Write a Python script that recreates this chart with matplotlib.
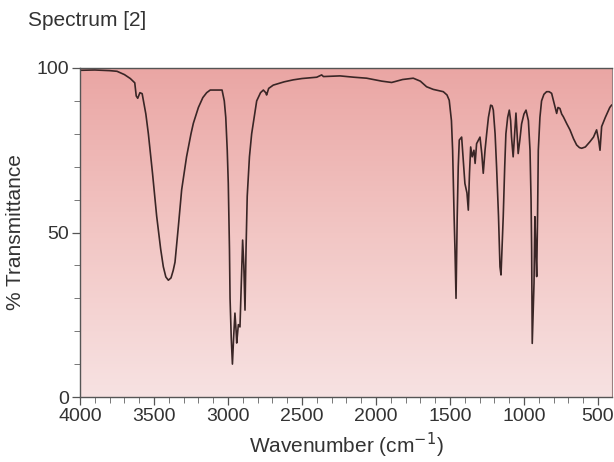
import numpy as np
import matplotlib
matplotlib.use("Agg")
import matplotlib.pyplot as plt
from matplotlib.colors import LinearSegmentedColormap
from matplotlib.ticker import MultipleLocator

plt.rcParams['font.family'] = ['Liberation Sans', 'DejaVu Sans']

wavenumber = [
    4000, 3900, 3800, 3750, 3700, 3660, 3630, 3620, 3610, 3595, 3580, 3555, 3538, 3510,
    3482, 3455, 3437, 3420, 3403, 3385, 3370, 3358, 3335, 3313, 3280, 3250, 3234, 3200,
    3170, 3144, 3120, 3040, 3025, 3015, 3005, 2998, 2990, 2986, 2978, 2970, 2962, 2953,
    2945, 2941, 2930, 2919, 2910, 2901, 2893, 2885, 2878, 2870, 2855, 2840, 2820, 2806,
    2780, 2761, 2745, 2739, 2725, 2694, 2620, 2559, 2500, 2400, 2367, 2355, 2243, 2150,
    2063, 1960, 1894, 1820, 1748, 1700, 1658, 1613, 1545, 1520, 1505, 1490, 1482, 1472,
    1466, 1459, 1451, 1444, 1437, 1421, 1410, 1399, 1385, 1376, 1368, 1360, 1350, 1338,
    1330, 1320, 1297, 1285, 1275, 1263, 1252, 1240, 1225, 1215, 1207, 1195, 1185, 1172,
    1162, 1155, 1148, 1140, 1130, 1122, 1110, 1099, 1090, 1084, 1073, 1063, 1054, 1046,
    1039, 1028, 1016, 1000, 986, 970, 959, 952, 948, 944, 938, 932, 926, 920, 914, 908,
    903, 892, 881, 865, 847, 830, 813, 795, 779, 770, 757, 745, 734, 710, 689, 665, 644,
    625, 610, 585, 554, 530, 509, 495, 486, 480, 475, 450, 420, 408,
]
transmittance = [
    99.3, 99.4, 99.2, 99.0, 98.0, 96.8, 95.5, 91.5, 90.8, 92.5, 92.2, 86, 80, 68,
    55, 45, 39.6, 36.5, 35.5, 36.2, 38.5, 41, 52, 63, 73, 80, 83.2, 88,
    91, 92.5, 93.3, 93.3, 90, 85, 75, 65, 45, 30, 18, 10, 18, 25.5,
    20, 16.4, 22, 21.3, 35, 47.7, 40, 26.4, 45, 61, 73, 80, 86, 90,
    92.5, 93.3, 92.5, 91.8, 93.8, 94.8, 95.8, 96.4, 96.8, 97.2, 97.9, 97.4, 97.6, 97.2,
    96.9, 96.0, 95.6, 96.5, 96.9, 96, 94.3, 93.5, 92.8, 91.8, 90.2, 84, 75, 55,
    44.7, 30, 54.8, 70, 78.1, 79, 72, 64.9, 62, 56.8, 68, 76, 73, 75,
    71, 77, 79, 74, 68, 75, 80, 85, 88.7, 88.5, 87.2, 80, 70, 55,
    39.6, 37.1, 45, 54.8, 70, 80, 85, 87.2, 84, 79, 73, 80, 86.3, 80,
    74, 78, 83, 86, 87.2, 84, 75, 60, 44.7, 16.3, 25, 34.6, 54.8, 45, 36.6, 55,
    75, 85, 90, 92, 92.8, 92.8, 92.3, 89, 86.2, 88, 87.7, 86, 85.2, 83, 81.2, 78.5, 76.6,
    75.8, 75.6, 76, 77.6, 79, 81.2, 78, 75, 79, 82.2, 85, 88, 88.7,
]
x_ticks = [4000, 3500, 3000, 2500, 2000, 1500, 1000, 500]
y_ticks = [0, 50, 100]

W, H = 614, 462
fig = plt.figure(figsize=(W / 100, H / 100), dpi=100)
fig.patch.set_facecolor('white')
ax = fig.add_axes([80 / W, 1 - 397 / H, (612 - 80) / W, (397 - 68) / H])

# pink gradient background
cmap = LinearSegmentedColormap.from_list(
    'bg', ['#f7e2e2', '#f2c6c4', '#eaa6a4'])
grad = np.linspace(0, 1, 256).reshape(-1, 1)
ax.imshow(grad, cmap=cmap, aspect='auto', origin='lower',
          extent=[0, 1, 0, 1], transform=ax.transAxes, zorder=0)

ax.plot(wavenumber, transmittance, color='#3a2626', lw=1.2, zorder=2)

ax.set_xlim(4000, 405)
ax.set_ylim(0, 100)
ax.set_xticks(x_ticks)
ax.set_xticklabels([str(t) for t in x_ticks])
ax.xaxis.set_minor_locator(MultipleLocator(100))
ax.set_yticks(y_ticks)
ax.set_yticklabels([str(t) for t in y_ticks])
ax.yaxis.set_minor_locator(MultipleLocator(10))

txtc = '#333333'
ax.tick_params(axis='both', which='major', direction='out', length=6,
               width=0.9, color='#555555', labelsize=14, labelcolor=txtc, pad=2)
ax.tick_params(axis='both', which='minor', direction='out', length=4,
               width=0.7, color='#777777')
for s in ax.spines.values():
    s.set_color('#555555')
    s.set_linewidth(1.0)
ax.spines['right'].set_color('#9a8080')
ax.spines['right'].set_linewidth(0.8)

ax.set_xlabel('Wavenumber (cm$^{-1}$)', fontsize=15, color=txtc, labelpad=4)
ax.set_ylabel('% Transmittance', fontsize=15, color=txtc, labelpad=8)

fig.text(28 / W, 1 - 20 / H, 'Spectrum [2]', fontsize=15, color=txtc,
         ha='left', va='center')

fig.savefig('out.png', dpi=100)
